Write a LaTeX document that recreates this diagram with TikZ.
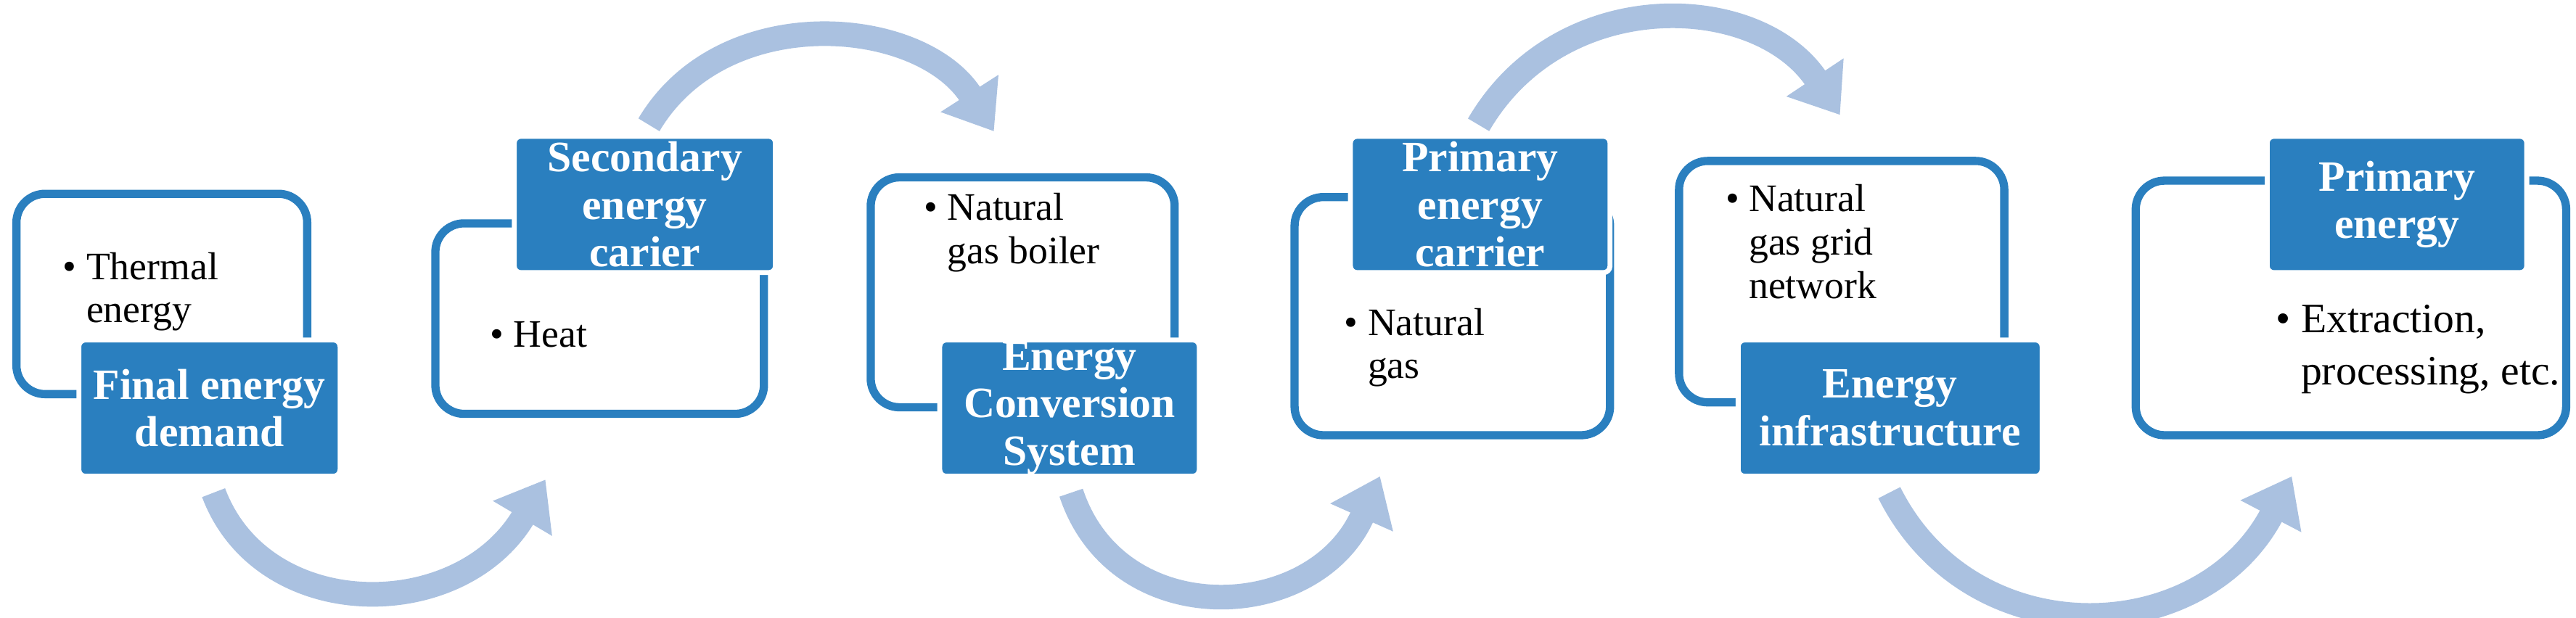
\documentclass[tikz,border=0pt]{standalone}
\usepackage{fontspec}
\setmainfont{Liberation Serif}
\usetikzlibrary{arrows.meta}
\definecolor{boxblue}{HTML}{2A7FBF}
\definecolor{arrowblue}{HTML}{AAC1E0}
\newcommand{\bul}[1]{\begin{tabular}{@{}l@{\ }l@{}}\textbullet & #1\end{tabular}}

\begin{document}
\begin{tikzpicture}[x=0.02cm,y=-0.02cm,
    frame/.style={draw=boxblue,line width=0.1cm,rounded corners=0.35cm},
    head/.style={fill=boxblue,draw=white,line width=0.06cm,rounded corners=0.08cm,text=white,font=\fontsize{15}{16.5}\selectfont\bfseries,align=center},
    item/.style={anchor=west,font=\fontsize{13.5}{15}\selectfont,inner sep=0pt},
    flow/.style={draw=arrowblue,line width=0.3cm,-{Triangle[length=0.55cm,width=0.8cm]}}]

    \useasboundingbox (0,0) rectangle (1568,376);

    % outline boxes
    \draw[frame] (10,118) rectangle (187,240);
    \draw[frame] (265,136) rectangle (465,252);
    \draw[frame] (530,108) rectangle (715,248);
    \draw[frame] (788,120) rectangle (980,265);
    \draw[frame] (1022,98) rectangle (1220,245);
    \draw[frame] (1300,110) rectangle (1562,265);

    % headings
    \path[head] (48,207) rectangle (207,290) node[midway] (h1) {Final energy\\demand};
    \path[head] (313,83) rectangle (472,166) node[midway] (h2) {Secondary\\energy\\carier};
    \path[head] (572,207) rectangle (730,290) node[midway] (h3) {Energy\\Conversion\\System};
    \path[head] (822,83) rectangle (980,166) node[midway] (h4) {Primary\\energy\\carrier};
    \path[head] (1058,207) rectangle (1243,290) node[midway] (h5) {Energy\\infrastructure};
    \path[head] (1380,83) rectangle (1538,166) node[midway] (h6) {Primary\\energy};

    % contents
    \node[item] (t1) at (38,178) {\bul{Thermal\\ & energy}};
    \node[item] (t2) at (298,206) {\bul{Heat}};
    \node[item] (t3) at (562,142) {\bul{Natural\\ & gas boiler}};
    \node[item] (t4) at (818,212) {\bul{Natural\\ & gas}};
    \node[item] (t5) at (1050,150) {\bul{Natural\\ & gas grid\\ & network}};
    \node[item,font=\fontsize{14.5}{18}\selectfont] (t6) at (1385,212) {\bul{Extraction,\\ & processing, etc.}};

    % curved arrows
    \coordinate (a1s) at (130,300); \coordinate (a1e) at (332,292);
    \coordinate (a2s) at (395,76);  \coordinate (a2e) at (605,80);
    \coordinate (a3s) at (652,300); \coordinate (a3e) at (840,290);
    \coordinate (a4s) at (900,76);  \coordinate (a4e) at (1120,70);
    \coordinate (a5s) at (1150,300); \coordinate (a5e) at (1395,290);
    \draw[flow] (a1s) .. controls (160,380) and (280,380) .. (a1e);
    \draw[flow] (a2s) .. controls (440,0) and (560,10) .. (a2e);
    \draw[flow] (a3s) .. controls (680,385) and (800,380) .. (a3e);
    \draw[flow] (a4s) .. controls (950,-10) and (1070,-5) .. (a4e);
    \draw[flow] (a5s) .. controls (1200,400) and (1340,395) .. (a5e);
\end{tikzpicture}
\end{document}
